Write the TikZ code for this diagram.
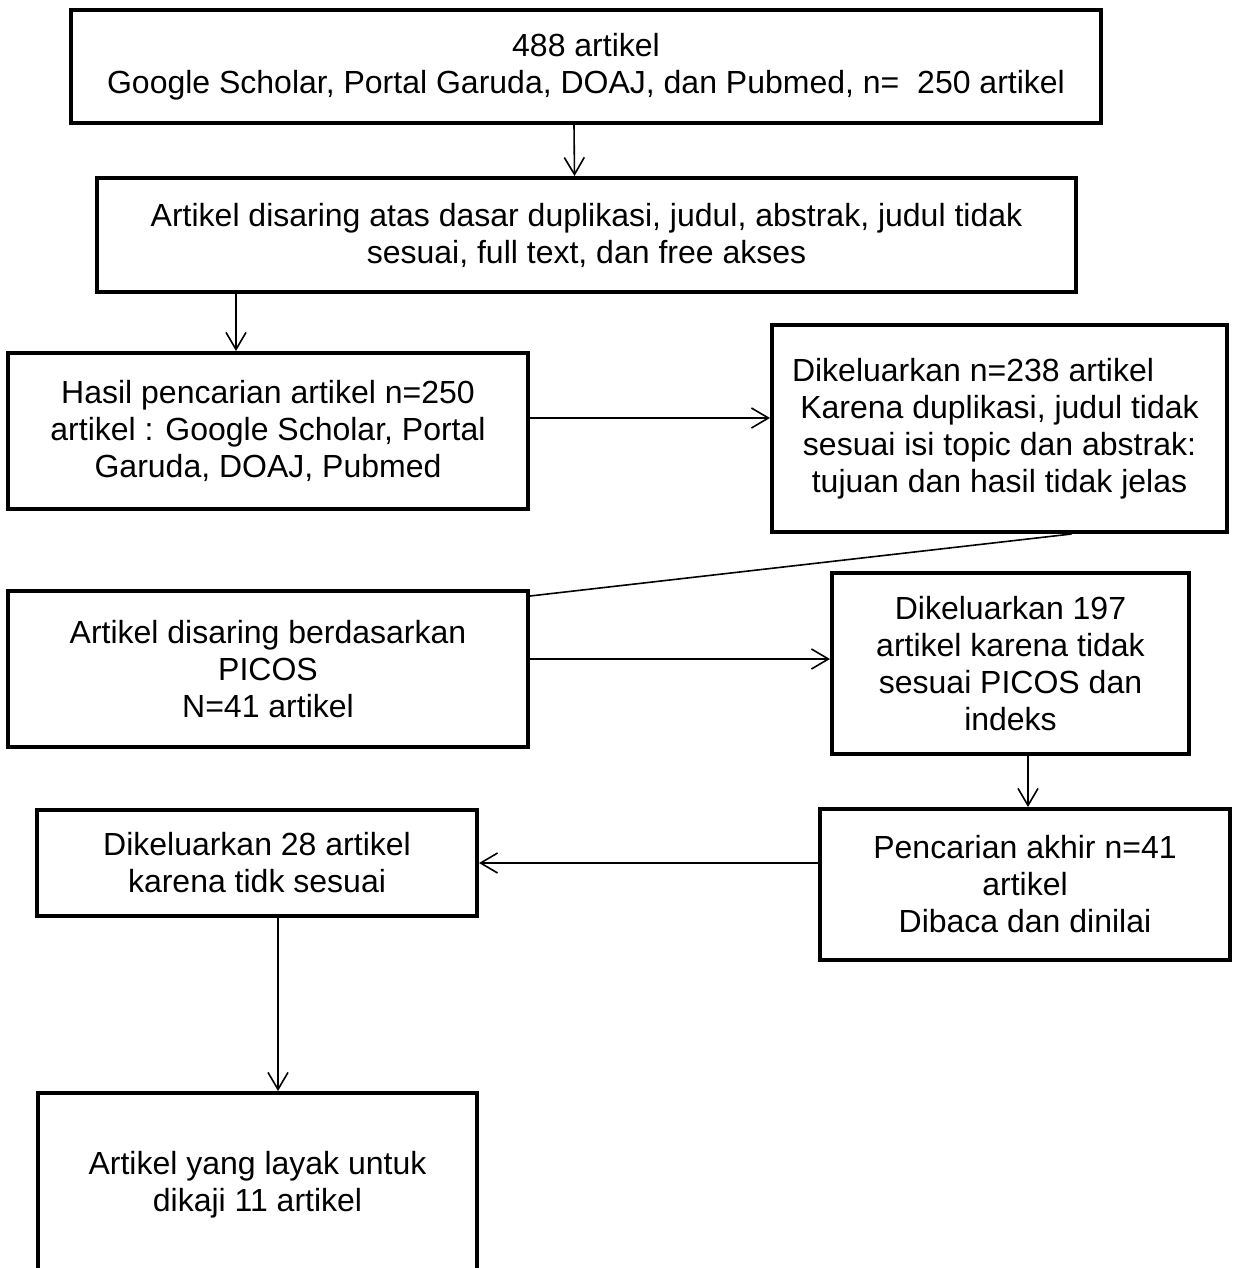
\documentclass[tikz,border=0pt]{standalone}
\usepackage{fontspec}
\setmainfont{Liberation Sans}
\usetikzlibrary{arrows.meta}

\begin{document}
\begin{tikzpicture}[x=0.5pt,y=-0.5pt,
  box/.style={draw,line width=2pt,align=center,inner sep=0pt,font=\fontsize{16pt}{18.5pt}\selectfont},
  arr/.style={line width=0.8pt,-{Straight Barb[length=8.5pt,width=10pt,line width=0.8pt]}},
  link/.style={line width=0.8pt}]
  \useasboundingbox (0,0) rectangle (1234,1268);
  \clip (0,0) rectangle (1234,1268);
  \node[box,minimum width=515pt,minimum height=56.5pt] (awal) at (586,66.5) {488 artikel\\Google Scholar, Portal Garuda, DOAJ, dan Pubmed, n=\ \ 250 artikel};
  \node[box,minimum width=489.5pt,minimum height=57pt] (saring) at (586.5,235) {Artikel disaring atas dasar duplikasi, judul, abstrak, judul tidak\\sesuai, full text, dan free akses};
  \node[box,minimum width=260pt,minimum height=78pt] (hasil) at (268,431) {Hasil pencarian artikel n=250\\artikel : Google Scholar, Portal\\Garuda, DOAJ, Pubmed};
  \node[box,minimum width=227.5pt,minimum height=103.5pt] (keluarA) at (999.5,428.5) {Dikeluarkan n=238 artikel\hspace*{26.5pt}\\Karena duplikasi, judul tidak\\sesuai isi topic dan abstrak:\\tujuan dan hasil tidak jelas};
  \node[box,minimum width=260pt,minimum height=78pt] (picos) at (268,669) {Artikel disaring berdasarkan\\PICOS\\N=41 artikel};
  \node[box,minimum width=178.5pt,minimum height=90.5pt] (keluarB) at (1010.5,663.5) {Dikeluarkan 197\\artikel karena tidak\\sesuai PICOS dan\\indeks};
  \node[box,minimum width=205pt,minimum height=75.5pt] (akhir) at (1025,884.5) {Pencarian akhir n=41\\artikel\\Dibaca dan dinilai};
  \node[box,minimum width=220pt,minimum height=53pt] (keluarC) at (257,863) {Dikeluarkan 28 artikel\\karena tidk sesuai};
  \node[box,minimum width=219.5pt,minimum height=92pt] (layak) at (257.5,1185) {Artikel yang layak untuk\\dikaji 11 artikel};
  \draw[arr] ([xshift=-6pt]awal.south) -- ([xshift=-6pt]saring.north);
  \draw[arr] ([xshift=-16pt]hasil.north |- saring.south) -- ([xshift=-16pt]hasil.north);
  \draw[arr] ([yshift=6.5pt]hasil.east) -- ([yshift=6.5pt]hasil.east -| keluarA.west);
  \draw[link] ([xshift=36pt]keluarA.south) -- ([yshift=-3.5pt]picos.north east);
  \draw[arr] ([yshift=5pt]picos.east) -- ([yshift=5pt]picos.east -| keluarB.west);
  \draw[arr] ([xshift=1.5pt]akhir.north |- keluarB.south) -- ([xshift=1.5pt]akhir.north);
  \draw[arr] (keluarC.east -| akhir.west) -- (keluarC.east);
  \draw[arr] ([xshift=10.5pt]keluarC.south) -- ([xshift=10.5pt]keluarC.south |- layak.north);
\end{tikzpicture}
\end{document}
